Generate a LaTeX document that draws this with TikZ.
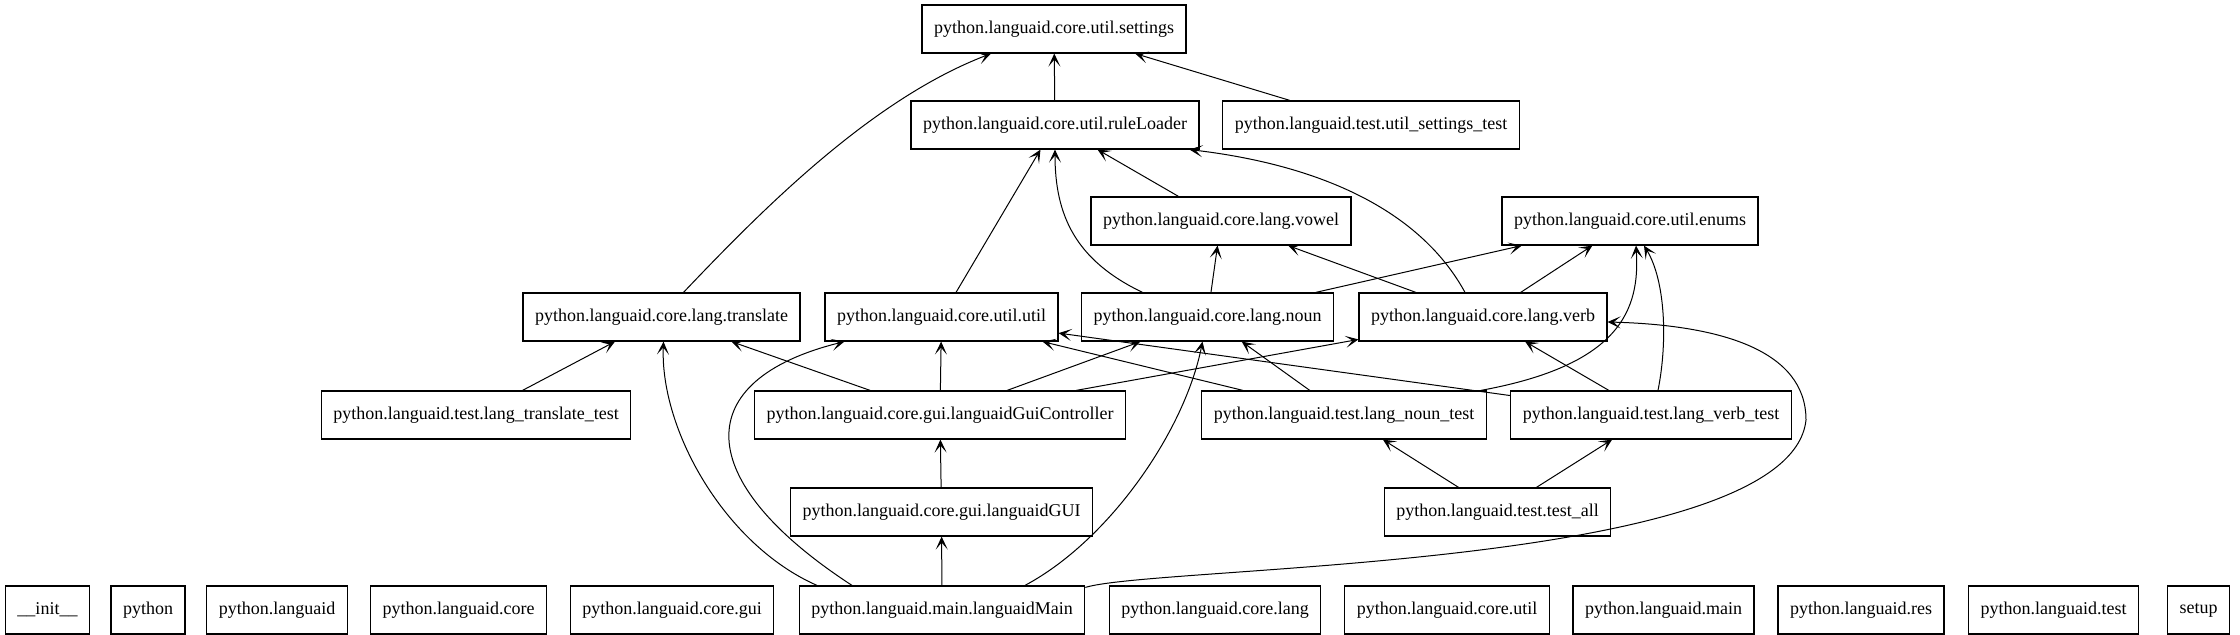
\documentclass[tikz,border=0pt]{standalone}
\usepackage{fontspec}
\setmainfont{Liberation Serif}
\usetikzlibrary{arrows.meta,calc}
\begin{document}
\begin{tikzpicture}[
    x=0.5pt,
    y=-0.5pt,
    mod/.style={draw, line width=0.6pt, rectangle, minimum height=24pt,
      inner xsep=6pt, inner ysep=0pt, font=\fontsize{9}{11}\selectfont},
    dep/.style={line width=0.5pt,
      -{Stealth[length=6.5pt,width=6pt,inset=3.5pt]}}
  ]

  \useasboundingbox (0,0) rectangle (2240,635);

  % upper modules
  \node[mod] (settings) at (1054,29) {python.languaid.core.util.settings};
  \node[mod] (ruleLoader) at (1055,125) {python.languaid.core.util.ruleLoader};
  \node[mod] (settingsTest) at (1371,125) {python.languaid.test.util\_settings\_test};
  \node[mod] (vowel) at (1221,221) {python.languaid.core.lang.vowel};
  \node[mod] (enums) at (1630,221) {python.languaid.core.util.enums};
  %
  \node[mod] (translate) at (661.5,317) {python.languaid.core.lang.translate};
  \node[mod] (utilUtil) at (941.5,317) {python.languaid.core.util.util};
  \node[mod] (noun) at (1207.5,317) {python.languaid.core.lang.noun};
  \node[mod] (verb) at (1483,317) {python.languaid.core.lang.verb};
  %
  \node[mod] (translateTest) at (476,415) {python.languaid.test.lang\_translate\_test};
  \node[mod] (guiCtrl) at (940,415) {python.languaid.core.gui.languaidGuiController};
  \node[mod] (nounTest) at (1344,415) {python.languaid.test.lang\_noun\_test};
  \node[mod] (verbTest) at (1651,415) {python.languaid.test.lang\_verb\_test};
  %
  \node[mod] (gui) at (941.5,512) {python.languaid.core.gui.languaidGUI};
  \node[mod] (testAll) at (1497.5,512) {python.languaid.test.test\_all};

  % bottom row
  \node[mod] (langMain) at (942,610) {python.languaid.main.languaidMain};
  \foreach \x/\n/\t in {
      47.5/init/\_\_init\_\_,
      148/python/python,
      277/languaid/python.languaid,
      458.5/core/python.languaid.core,
      672/coreGui/python.languaid.core.gui,
      1215/coreLang/python.languaid.core.lang,
      1447/coreUtil/python.languaid.core.util,
      1663.5/mainPkg/python.languaid.main,
      1861/res/python.languaid.res,
      2053.5/test/python.languaid.test,
      2198.5/setup/setup}
    \node[mod] (\n) at (\x,610) {\t};

  \coordinate (bend) at (1806,420);

  % dependencies
  \draw[dep] (ruleLoader) -- (settings);
  \draw[dep] (settingsTest) -- (settings);
  \draw[dep] ($(translate.north)+(22,0)$)
    .. controls (760,212) and (870,100) .. ($(settings.south)+(-63,0)$);
  %
  \draw[dep] (utilUtil) -- (ruleLoader);
  \draw[dep] (vowel) -- (ruleLoader);
  \draw[dep] ($(noun.north)+(-65,0)$)
    .. controls (1075,260) and (1055,215) .. (ruleLoader.south);
  \draw[dep] ($(verb.north)+(-18,0)$)
    .. controls (1420,210) and (1320,165) .. ($(ruleLoader.south east)+(-10,0)$);
  %
  \draw[dep] (noun) -- (vowel);
  \draw[dep] (verb) -- (vowel);
  \draw[dep] (noun) -- (enums);
  \draw[dep] (verb) -- (enums);
  \draw[dep] ($(nounTest.north east)+(-6,0)$)
    .. controls (1620,365) and (1640,310) .. ($(enums.south)+(6,0)$);
  \draw[dep] ($(verbTest.north)+(7,0)$)
    .. controls (1668,340) and (1665,280) .. ($(enums.south)+(14,0)$);
  %
  \draw[dep] (verbTest) -- (verb);
  \draw[dep] (verbTest) -- (utilUtil);
  \draw[dep] (nounTest) -- (noun);
  \draw[dep] (nounTest) -- (utilUtil);
  \draw[dep] (guiCtrl) -- (translate);
  \draw[dep] (guiCtrl) -- (utilUtil);
  \draw[dep] (guiCtrl) -- (noun);
  \draw[dep] (guiCtrl) -- (verb);
  \draw[dep] (translateTest) -- (translate);
  %
  \draw[dep] (gui) -- (guiCtrl);
  \draw[dep] (testAll) -- (nounTest);
  \draw[dep] (testAll) -- (verbTest);
  %
  \draw[dep] (langMain) -- (gui);
  \draw[dep] ($(langMain.north)+(-125,0)$)
    .. controls (725,545) and (660,430) .. ($(translate.south)+(2,0)$);
  \draw[dep] ($(langMain.north)+(-90,0)$)
    .. controls (690,480) and (690,380) .. ($(utilUtil.south west)+(20,0)$);
  \draw[dep] ($(langMain.north)+(83,0)$)
    .. controls (1110,540) and (1185,430) .. ($(noun.south)+(-5,0)$);
  \draw[dep] ($(langMain.north east)+(0,2)$)
    .. controls (1160,565) and (1790,570) .. (bend)
    .. controls (1806,350) and (1720,325) .. ($(verb.east)+(0,5)$);
\end{tikzpicture}
\end{document}
